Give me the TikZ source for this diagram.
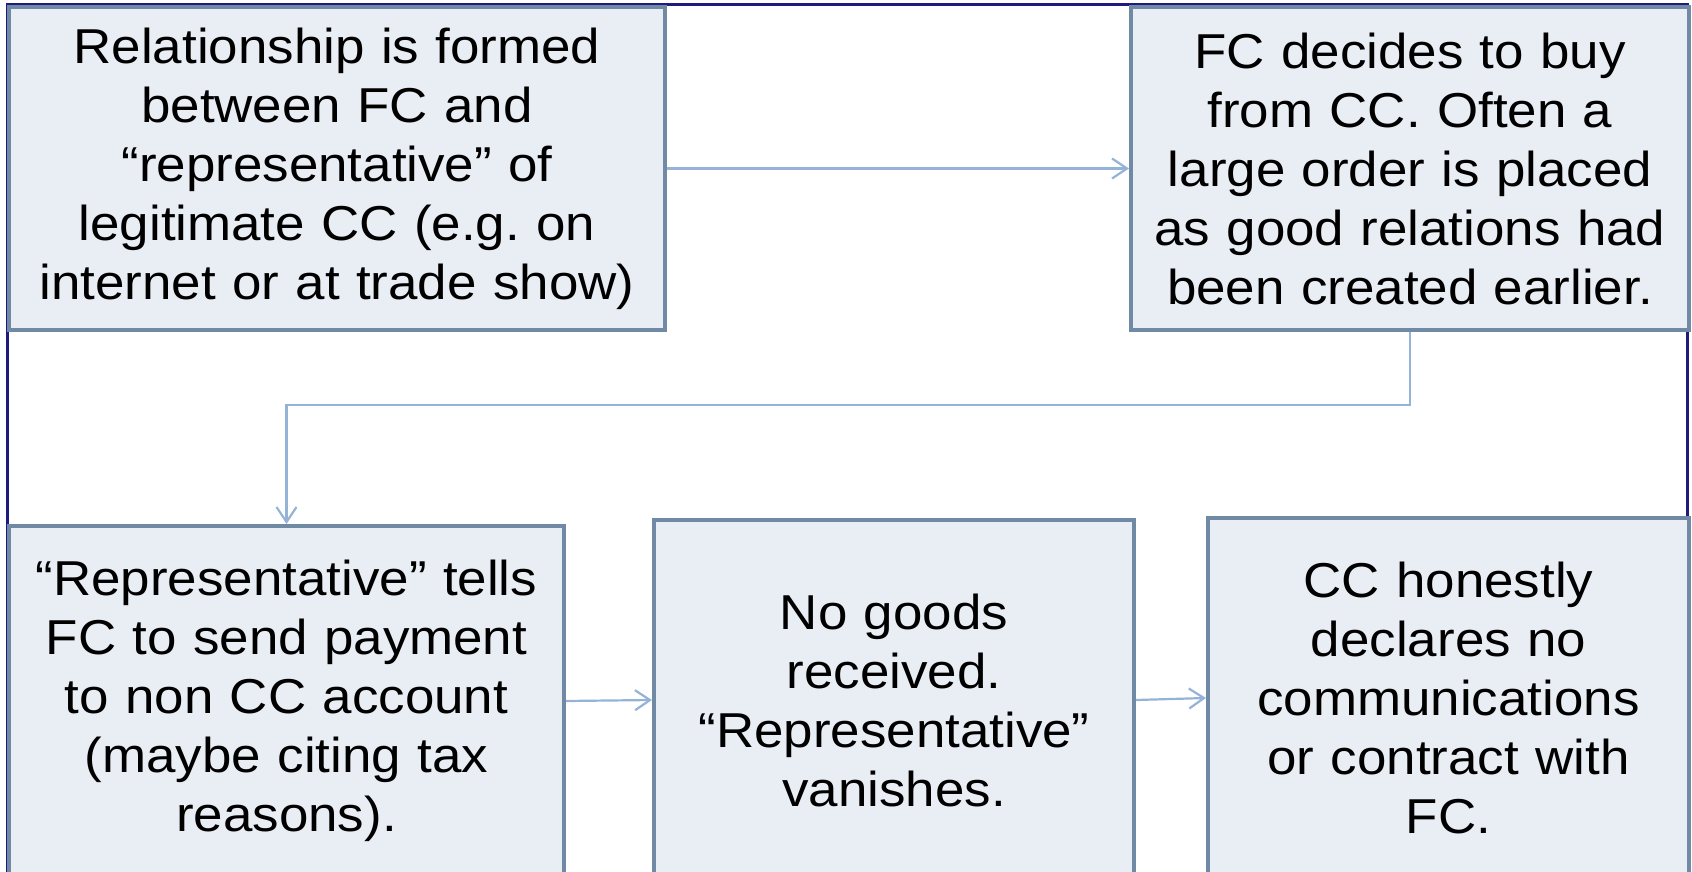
\documentclass[tikz,border=0pt]{standalone}
\usepackage{fontspec}
\setmainfont{Liberation Sans}[FakeStretch=1.08]
\usepackage{xcolor}
\usepackage{tikz}
\usetikzlibrary{positioning,arrows.meta}
\frenchspacing
\definecolor{boxfill}{RGB}{233,237,244}
\definecolor{boxline}{RGB}{112,138,166}
\definecolor{connline}{RGB}{149,179,215}
\definecolor{framenavy}{RGB}{31,26,128}
\tikzset{
  stepbox/.style={draw=boxline, fill=boxfill, line width=4pt, inner sep=0pt,
    anchor=north west, align=center, font=\fontsize{49}{59}\selectfont},
  conn/.style={draw=connline, line width=2.2pt,
    -{Straight Barb[length=15pt,width=20pt]}},
  frameline/.style={draw=framenavy, line width=3pt}
}
\begin{document}
\begin{tikzpicture}[x=1pt,y=-1pt]
\clip (0,0) rectangle (1692,872);
\draw[frameline] (7,5) rectangle (1687,900);
\node(b1) [stepbox, minimum width=656pt, minimum height=323pt, text width=640pt] at (7,5)
  {Relationship is formed\\between FC and\\“representative” of\\legitimate CC (e.g. on\\internet or at trade show)};
\node(b2) [stepbox, minimum width=558pt, minimum height=323pt, text width=550pt] at (1129,5)
  {FC decides to buy\\from CC. Often a\\large order is placed\\as good relations had\\been created earlier.};
\node(b3) [stepbox, minimum width=555pt, minimum height=350pt, text width=545pt] at (7,524)
  {“Representative” tells\\FC to send payment\\to non CC account\\(maybe citing tax\\reasons).};
\node(b4) [stepbox, minimum width=480pt, minimum height=360pt, text width=470pt] at (652,518)
  {No goods\\received.\\“Representative”\\vanishes.};
\node(b5) [stepbox, minimum width=481pt, minimum height=360pt, text width=470pt] at (1206,516)
  {CC honestly\\declares no\\communications\\or contract with\\FC.};
\draw[conn] (b1.east) -- (b2.west);
\draw[conn] (b2.south) -- ++(0,73) -| (b3.north);
\draw[conn] (b3.east) -- (b4.west);
\draw[conn] (b4.east) -- (b5.west);
\end{tikzpicture}
\end{document}
